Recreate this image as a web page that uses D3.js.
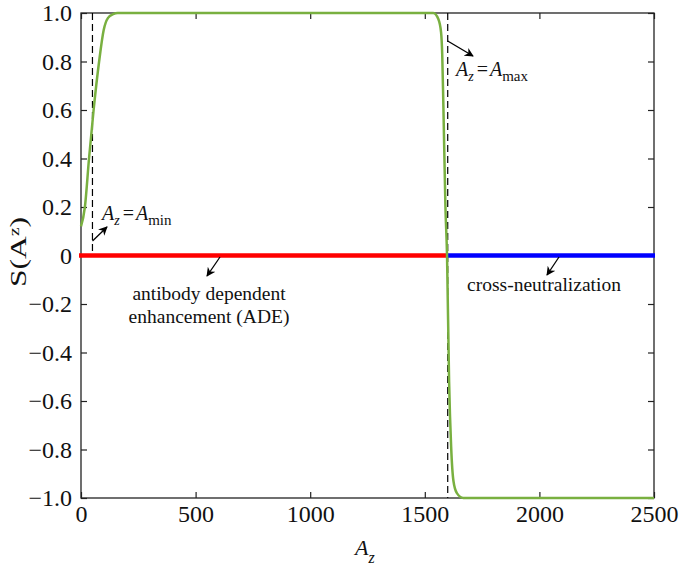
<!DOCTYPE html>
<html>
<head>
<meta charset="utf-8">
<script src="https://cdn.jsdelivr.net/npm/d3@7"></script>
<style>
  body { margin: 0; background: #fff; }
  svg text { font-family: "Liberation Serif", "Times New Roman", "DejaVu Serif", serif; }
  .tick line { stroke: #222; stroke-width: 1.2; }
</style>
</head>
<body>
<div class="js-container"></div>
<script>
  // values
  var xTicks = [0, 500, 1000, 1500, 2000, 2500];
  var yTicks = [1.0, 0.8, 0.6, 0.4, 0.2, 0, -0.2, -0.4, -0.6, -0.8, -1.0];
  var yTickLabels = ['1.0', '0.8', '0.6', '0.4', '0.2', '0', '\u22120.2', '\u22120.4', '\u22120.6', '\u22120.8', '\u22121.0'];

  var aMin = 50;
  var aMax = 1600;

  // S(Az) curve, estimated points
  var curveX = [0, 17, 35, 55, 79, 99, 118, 140, 160, 200, 800, 1537, 1559, 1571, 1576, 1581, 1590, 1597, 1606, 1615, 1625, 1640, 1668, 1700, 2500];
  var curveY = [0.12, 0.2, 0.4, 0.6, 0.8, 0.93, 0.98, 0.995, 1.0, 1.0, 1.0, 1.0, 0.975, 0.92, 0.83, 0.62, 0.2, 0, -0.52, -0.79, -0.93, -0.98, -1.0, -1.0, -1.0];

  // zero line segments
  var adeRange = [0, 1600];
  var neutRange = [1600, 2500];

  var margin = {top: 13, left: 81};
  var w = 573, h = 485;
  var serif = '"Liberation Serif", "Times New Roman", "DejaVu Serif", serif';

  var svg = d3.select('.js-container').append('svg')
      .attr('width', 679)
      .attr('height', 570);

  var defs = svg.append('defs');
  defs.append('marker')
      .attr('id', 'arr')
      .attr('viewBox', '0 0 10 10')
      .attr('refX', 9).attr('refY', 5)
      .attr('markerWidth', 9).attr('markerHeight', 9)
      .attr('markerUnits', 'userSpaceOnUse')
      .attr('orient', 'auto')
    .append('path')
      .attr('d', 'M0,0 L10,5 L0,10 L3,5 Z')
      .attr('fill', '#000');

  var g = svg.append('g').attr('transform', 'translate(' + margin.left + ',' + margin.top + ')');

  var x = d3.scaleLinear().domain([0, 2500]).range([0, w]);
  var y = d3.scaleLinear().domain([-1, 1]).range([h, 0]);

  function clean(s) {
    s.select('.domain').remove();
    s.selectAll('.tick text')
      .style('font-family', serif)
      .style('font-size', '24px')
      .style('fill', '#111');
  }

  // axes, ticks pointing inward
  g.append('g').attr('transform', 'translate(0,' + h + ')')
      .call(d3.axisBottom(x).tickValues(xTicks).tickSizeInner(-6).tickSizeOuter(0).tickPadding(7)
        .tickFormat(d3.format('d')))
      .call(clean);
  g.append('g')
      .call(d3.axisTop(x).tickValues(xTicks).tickSizeInner(-6).tickSizeOuter(0).tickFormat(''))
      .call(clean);
  g.append('g')
      .call(d3.axisLeft(y).tickValues(yTicks).tickSizeInner(-6).tickSizeOuter(0).tickPadding(9)
        .tickFormat(function(d, i) { return yTickLabels[i]; }))
      .call(clean);
  g.append('g').attr('transform', 'translate(' + w + ',0)')
      .call(d3.axisRight(y).tickValues(yTicks).tickSizeInner(-6).tickSizeOuter(0).tickFormat(''))
      .call(clean);

  g.append('rect')
      .attr('width', w).attr('height', h)
      .attr('fill', 'none')
      .attr('stroke', '#222')
      .attr('stroke-width', 1.3);

  // dashed markers
  g.append('line')
      .attr('x1', x(aMin)).attr('x2', x(aMin))
      .attr('y1', y(1)).attr('y2', y(0))
      .attr('stroke', '#000').attr('stroke-width', 1.2)
      .attr('stroke-dasharray', '7,4');
  g.append('line')
      .attr('x1', x(aMax)).attr('x2', x(aMax))
      .attr('y1', y(1)).attr('y2', y(-1))
      .attr('stroke', '#000').attr('stroke-width', 1.2)
      .attr('stroke-dasharray', '7,4');

  // zero line
  g.append('line')
      .attr('x1', x(adeRange[0]) - 2).attr('x2', x(adeRange[1]))
      .attr('y1', y(0)).attr('y2', y(0))
      .attr('stroke', '#ff0000').attr('stroke-width', 4.5);
  g.append('line')
      .attr('x1', x(neutRange[0])).attr('x2', x(neutRange[1]) + 1)
      .attr('y1', y(0)).attr('y2', y(0))
      .attr('stroke', '#0000ff').attr('stroke-width', 4.5);

  // S curve
  var pts = curveX.map(function(d, i) { return [d, curveY[i]]; });
  var line = d3.line()
      .x(function(d) { return x(d[0]); })
      .y(function(d) { return y(d[1]); })
      .curve(d3.curveMonotoneX);
  g.append('path')
      .datum(pts)
      .attr('d', line)
      .attr('fill', 'none')
      .attr('stroke', '#79b040')
      .attr('stroke-width', 2.5);

  // annotations
  function arrow(x1, y1, x2, y2) {
    svg.append('line')
      .attr('x1', x1).attr('y1', y1).attr('x2', x2).attr('y2', y2)
      .attr('stroke', '#000').attr('stroke-width', 1.3)
      .attr('marker-end', 'url(#arr)');
  }

  function azEq(px, py, sub) {
    var t = svg.append('text')
        .attr('x', px).attr('y', py)
        .style('font-size', '20px')
        .attr('fill', '#111');
    t.append('tspan').attr('font-style', 'italic').text('A');
    t.append('tspan').attr('font-style', 'italic').style('font-size', '14px').attr('dy', 5).text('z');
    t.append('tspan').attr('dy', -5).attr('dx', 3).text('=');
    t.append('tspan').attr('font-style', 'italic').attr('dx', 2).text('A');
    t.append('tspan').style('font-size', '15px').attr('dy', 5).text(sub);
  }

  arrow(92.5, 241, 107, 227);
  azEq(102, 220, 'min');

  arrow(447.7, 41, 473, 56);
  azEq(456, 76, 'max');

  function label(px, py, txt) {
    svg.append('text')
      .attr('x', px).attr('y', py)
      .attr('text-anchor', 'middle')
      .style('font-size', '19.5px').attr('fill', '#111')
      .text(txt);
  }

  arrow(220, 257, 207, 276);
  label(209, 300, 'antibody dependent');
  label(209, 323, 'enhancement (ADE)');

  arrow(559, 257, 547, 275);
  label(544, 291, 'cross-neutralization');

  // axis titles
  var xl = svg.append('text')
      .attr('x', 355).attr('y', 555)
      .style('font-size', '22px').attr('fill', '#111');
  xl.append('tspan').attr('font-style', 'italic').text('A');
  xl.append('tspan').attr('font-style', 'italic').style('font-size', '16px').attr('dy', 8).text('z');

  var yl = svg.append('text')
      .attr('transform', 'translate(26,252) rotate(-90)')
      .attr('text-anchor', 'middle')
      .attr('textLength', 70)
      .attr('lengthAdjust', 'spacingAndGlyphs')
      .style('font-size', '23px').attr('fill', '#111');
  yl.append('tspan').text('S(A');
  yl.append('tspan').style('font-size', '14px').attr('dy', -7).text('z');
  yl.append('tspan').attr('dy', 7).text(')');
</script>
</body>
</html>
